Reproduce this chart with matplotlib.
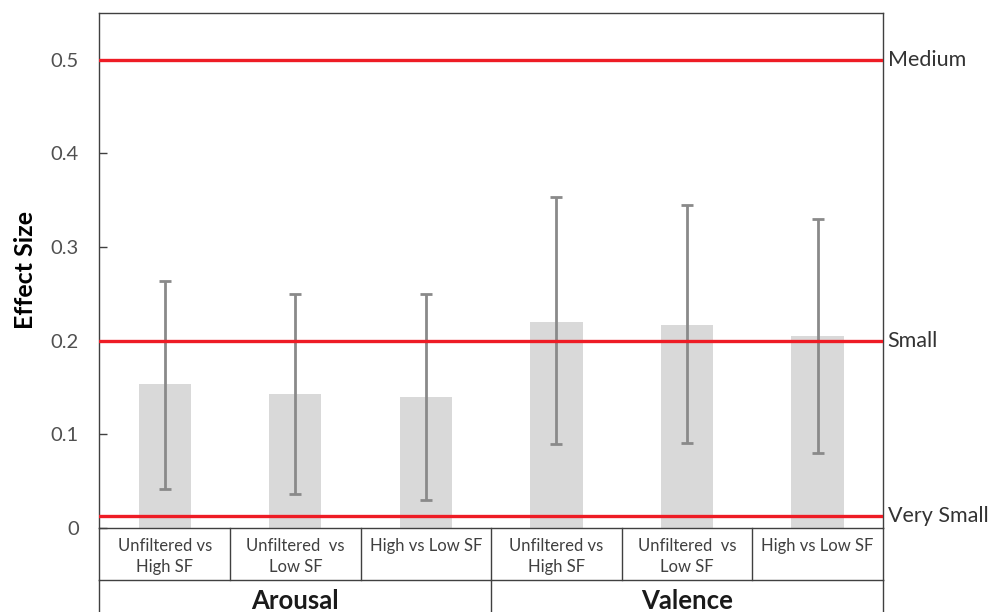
import matplotlib.pyplot as plt
from matplotlib.lines import Line2D

# valeurs
comparisons = ['Unfiltered vs\nHigh SF', 'Unfiltered  vs\nLow SF', 'High vs Low SF',
               'Unfiltered vs\nHigh SF', 'Unfiltered  vs\nLow SF', 'High vs Low SF']
groups = ['Arousal', 'Valence']
effect = [0.154, 0.143, 0.140, 0.220, 0.217, 0.205]
ci_low = [0.042, 0.036, 0.030, 0.090, 0.091, 0.080]
ci_high = [0.264, 0.250, 0.250, 0.353, 0.345, 0.330]
thresholds = [0.5, 0.2, 0.013]
threshold_labels = ['Medium', 'Small', 'Very Small']

plt.rcParams['font.family'] = ['Lato', 'DejaVu Sans']

fig = plt.figure(figsize=(9.92, 6.12), dpi=100)
ax = fig.add_axes([0.1003, 0.1373, 0.7897, 0.8415])

x = list(range(len(effect)))
err = [[e - lo for e, lo in zip(effect, ci_low)], [hi - e for e, hi in zip(effect, ci_high)]]
ax.bar(x, effect, width=0.4, color='#d9d9d9', zorder=1)
ax.errorbar(x, effect, yerr=err, fmt='none', ecolor='#8a8a8a', elinewidth=2,
            capsize=4, capthick=2, zorder=2)

for t, lab in zip(thresholds, threshold_labels):
    ax.axhline(t, color='#ee1c25', lw=2.4, zorder=3)
    ax.text(1.006, t, lab, transform=ax.get_yaxis_transform(), ha='left', va='center',
            fontsize=15.5, color='#333333')

ax.set_xlim(-0.5, 5.5)
ax.set_ylim(0, 0.55)
ax.set_yticks([0, 0.1, 0.2, 0.3, 0.4, 0.5])
ax.set_yticklabels(['0', '0.1', '0.2', '0.3', '0.4', '0.5'])
ax.tick_params(axis='y', direction='in', length=6, width=1, pad=15,
               labelsize=14.5, labelcolor='#505050', color='#404040')
ax.set_xticks([])
for s in ax.spines.values():
    s.set_color('#404040')
    s.set_linewidth(1)
ax.set_ylabel('Effect Size', fontsize=18, fontweight='bold', labelpad=10)

# tableau sous l'axe
tr = ax.get_xaxis_transform()
row = 0.101
lc = '#404040'
ax.add_line(Line2D([-0.5, 5.5], [-row, -row], transform=tr, color=lc, lw=1, clip_on=False))
for b in [-0.5, 0.5, 1.5, 2.5, 3.5, 4.5, 5.5]:
    ax.add_line(Line2D([b, b], [0, -row], transform=tr, color=lc, lw=1, clip_on=False))
for b in [-0.5, 2.5, 5.5]:
    ax.add_line(Line2D([b, b], [-row, -0.3], transform=tr, color=lc, lw=1, clip_on=False))

for xi, lab in zip(x, comparisons):
    ax.text(xi, -0.019, lab, transform=tr, ha='center', va='top', fontsize=12,
            color='#404040', linespacing=1.4)
for gi, g in enumerate(groups):
    ax.text(1 + 3 * gi, -0.158, g, transform=tr, ha='center', va='baseline', fontsize=18.5,
            fontweight='bold', color='#1a1a1a')

fig.savefig('out.png', dpi=100)
